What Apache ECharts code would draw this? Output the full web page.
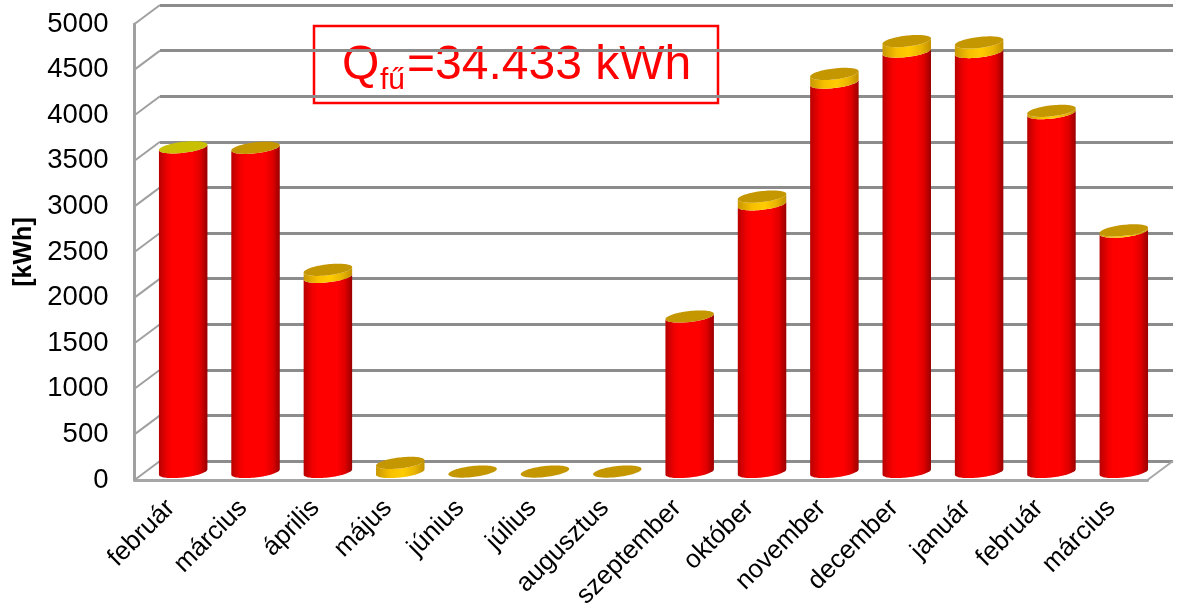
<!DOCTYPE html>
<html>
<head>
<meta charset="utf-8">
<style>html,body{margin:0;padding:0;background:#fff}#c{width:1182px;height:613px}</style>
<script src="https://cdn.jsdelivr.net/npm/echarts@6/dist/echarts.min.js"></script>
</head>
<body>
<div id="c"></div>
<script>
const categories = ['február','március','április','május','június','július','augusztus','szeptember','október','november','december','január','február','március'];
const redValues = [3560,3555,2140,0,0,0,0,1705,2935,4270,4610,4605,3935,2635];
const yellowValues = [0,0,77,100,5,5,5,0,85,95,115,105,25,15];
const yTicks = [0,500,1000,1500,2000,2500,3000,3500,4000,4500,5000];
const FONT = '"Liberation Sans", Arial, sans-serif';
const DEPTH_X = 25.5, DEPTH_Y = 19;

const chart = echarts.init(document.getElementById('c'), null, {renderer:'canvas'});

function hGrad(stops){
  return {type:'linear',x:0,y:0,x2:1,y2:0,colorStops:stops.map(s=>({offset:s[0],color:s[1]}))};
}
const redGrad = hGrad([[0,'#b80000'],[0.18,'#f00000'],[0.3,'#ff0000'],[0.68,'#ff0000'],[0.85,'#e00000'],[1,'#980000']]);
const yellowGrad = hGrad([[0,'#c89800'],[0.3,'#f8c000'],[0.55,'#ffcc00'],[0.8,'#e8b400'],[1,'#c09000']]);

function arc(cx, cy, a, b, s){
  const pts = [];
  for (let i = 0; i <= 40; i++){
    const t = Math.PI * i / 40, dx = a * Math.cos(t);
    pts.push([cx + dx, cy + b * Math.sin(t) - s * dx]);
  }
  return pts;
}
function body(cx, yLow, yHigh, a, b, s, fill){
  const lower = arc(cx, yLow, a, b, s);
  const upper = arc(cx, yHigh, a, b, s).reverse();
  return {type:'polygon', shape:{points:lower.concat(upper)}, style:{fill:fill}};
}
function renderCylinder(params, api){
  const i = api.value(0), red = api.value(1), yel = api.value(2);
  const base = api.coord([i, 0]);
  const yRed = api.coord([i, red])[1];
  const yTop = api.coord([i, red + yel])[1];
  const a = api.size([1, 0])[0] * 0.335, b = 5.5, s = 0.11, cx = base[0];
  const kids = [];
  if (red > 0) kids.push(body(cx, base[1], yRed, a, b, s, redGrad));
  if (yel > 10) kids.push(body(cx, yRed, yTop, a, b, s, yellowGrad));
  const top = arc(cx, yTop, a, b, s).concat(arc(cx, yTop, a, -b, s).reverse());
  kids.push({type:'polygon', shape:{points:top}, style:{fill: i === 0 ? '#c8c000' : '#c49600'}});
  return {type:'group', children:kids};
}
function renderDiagonal(params, api){
  const v = api.value(0);
  const x = params.coordSys.x;
  const y = api.coord([0, v])[1];
  const kids = [{type:'line', shape:{x1:x, y1:y, x2:x+DEPTH_X, y2:y-DEPTH_Y}, style:{stroke:'#a0a0a0', lineWidth:2}}];
  if (v === 0){
    const xr = x + params.coordSys.width;
    kids.push({type:'line', shape:{x1:xr, y1:y, x2:xr+DEPTH_X, y2:y-DEPTH_Y}, style:{stroke:'#a8a8a8', lineWidth:2}});
  }
  return {type:'group', children:kids};
}

const hiddenY = {type:'value', min:0, max:5000, interval:500, axisLine:{show:false}, axisTick:{show:false}, axisLabel:{show:false}, splitLine:{show:false}};
const hiddenX = {type:'category', data:categories, axisLine:{show:false}, axisTick:{show:false}, axisLabel:{show:false}, splitLine:{show:false}};

chart.setOption({
  animation:false,
  backgroundColor:'#ffffff',
  grid:[
    {left:134.5, top:24, width:1013, height:456, outerBoundsMode:'none'},
    {left:160, top:5, width:1013, height:456, outerBoundsMode:'none'},
    {left:147, top:16, width:1013, height:456, outerBoundsMode:'none'}
  ],
  xAxis:[
    {type:'category', gridIndex:0, data:categories,
     axisLine:{show:true, lineStyle:{color:'#a6a6a6', width:3}},
     axisTick:{show:false},
     axisLabel:{interval:0, rotate:45, margin:24, color:'#000', fontFamily:FONT, fontSize:26}},
    Object.assign({gridIndex:1}, hiddenX),
    Object.assign({gridIndex:2}, hiddenX)
  ],
  yAxis:[
    {type:'value', gridIndex:0, min:0, max:5000, interval:500,
     name:'[kWh]', nameLocation:'middle', nameGap:98, nameRotate:90,
     nameTextStyle:{color:'#000', fontFamily:FONT, fontSize:25, fontWeight:'bold'},
     axisLine:{show:true, lineStyle:{color:'#a0a0a0', width:3}},
     axisTick:{show:false},
     axisLabel:{color:'#000', fontFamily:FONT, fontSize:27.5, margin:26, formatter:function(v){return String(v);}},
     splitLine:{show:false}},
    Object.assign({gridIndex:1}, hiddenY, {splitLine:{show:true, lineStyle:{color:'#8c8c8c', width:3}}}),
    Object.assign({gridIndex:2}, hiddenY)
  ],
  series:[
    {type:'custom', xAxisIndex:0, yAxisIndex:0, z:1, clip:false, silent:true,
     renderItem:renderDiagonal, data:yTicks.map(v=>[v]), encode:{y:0}},
    {type:'custom', xAxisIndex:2, yAxisIndex:2, z:5, clip:false, silent:true,
     renderItem:renderCylinder,
     data:categories.map((c,i)=>[i, redValues[i], yellowValues[i]]),
     encode:{x:0, y:[1,2]}}
  ],
  graphic:[
    {type:'group', z:100, children:[
      {type:'rect', shape:{x:314, y:26, width:404, height:77}, style:{fill:'#fff', stroke:'#ff0000', lineWidth:2.5}},
      {type:'text', x:342, y:66, style:{text:'Q', fill:'#ff0000', fontFamily:FONT, fontSize:48, verticalAlign:'middle'}},
      {type:'text', x:380, y:81, style:{text:'fű', fill:'#ff0000', fontFamily:FONT, fontSize:30, verticalAlign:'middle'}},
      {type:'text', x:407, y:66, style:{text:'=34.433 kWh', fill:'#ff0000', fontFamily:FONT, fontSize:48, verticalAlign:'middle'}}
    ]}
  ]
});
</script>
</body>
</html>
